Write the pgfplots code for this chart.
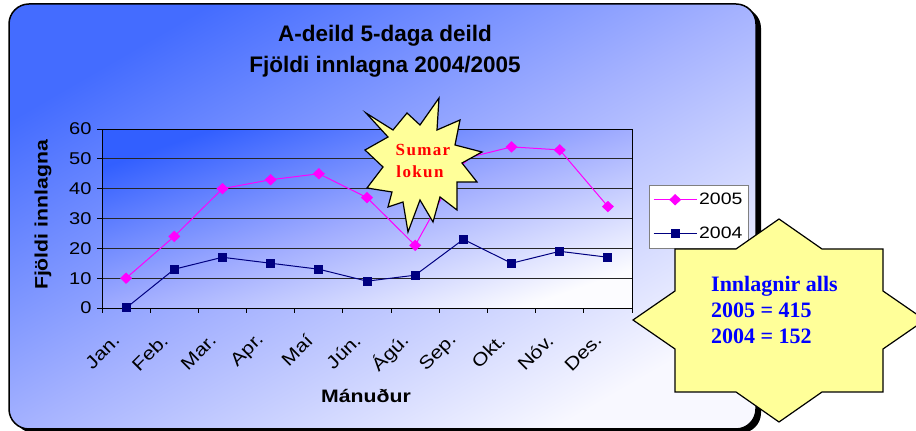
\documentclass[border=0pt]{standalone}
\usepackage{fontspec}
\setmainfont{Liberation Sans}
\newfontfamily\axfont[FakeStretch=1.18]{Liberation Sans}
\newfontfamily\tnr{Liberation Serif}
\usepackage{pgfplots}
\pgfplotsset{compat=1.18}
\definecolor{bgA}{RGB}{68,108,255}
\definecolor{bgB}{RGB}{165,178,255}
\definecolor{bgC}{RGB}{248,248,255}
\definecolor{paA}{RGB}{50,95,255}
\definecolor{paB}{RGB}{160,172,255}
\definecolor{paC}{RGB}{252,252,255}
\definecolor{starfill}{RGB}{255,255,153}
\definecolor{mag}{RGB}{255,0,255}
\definecolor{nav}{RGB}{0,0,128}
\definecolor{txtblue}{RGB}{0,0,255}
\begin{document}
\begin{tikzpicture}[x=1pt,y=1pt]
\useasboundingbox (0,0) rectangle (916,431);
\clip (0,0) rectangle (916,431);
% outer chart area with shadow
\fill[black,rounded corners=20pt] (14,-2) rectangle (761,423);
\draw[line width=1.5pt,rounded corners=20pt,top color=bgA,bottom color=bgC,middle color=bgB,shading angle=30] (9,2) rectangle (756,427);
% titles
\node[font=\fontsize{22.5}{22.5}\selectfont\bfseries,anchor=base,inner sep=0] at (385,389.3) {A-deild 5-daga deild};
\node[font=\fontsize{22.5}{22.5}\selectfont\bfseries,anchor=base,inner sep=0] at (385,358.3) {Fjöldi innlagna 2004/2005};
\node[font=\axfont\fontsize{18}{18}\selectfont\bfseries,rotate=90,inner sep=0] at (43,216) {Fjöldi innlagna};
\node[font=\axfont\fontsize{18}{18}\selectfont\bfseries,anchor=base,inner sep=0] at (366,28.3) {Mánuður};
\begin{axis}[
  at={(102pt,123pt)}, anchor=south west,
  scale only axis, width=530pt, height=179pt,
  xmin=0.5, xmax=11.5, ymin=0, ymax=60,
  ytick={0,10,...,60},
  xtick={1,...,11},
  xticklabels={Jan.,Feb.,Mar.,Apr.,Maí,Jún.,Ágú.,Sep.,Okt.,Nóv.,Des.},
  minor xtick={0.5,1.5,...,11.5},
  major x tick style={draw=none},
  tick align=outside, tick pos=left,
  major tick length=5pt, minor tick length=5pt,
  tick style={black,line width=0.9pt},
  ymajorgrids, grid style={black!85,line width=0.9pt},
  axis line style={black,line width=0.9pt},
  /pgf/number format/assume math mode=true,
  xticklabel style={font=\axfont\fontsize{18}{18}\selectfont, xshift=-7pt, yshift=-22pt, rotate=45, anchor=east},
  yticklabel style={font=\axfont\fontsize{17}{17}\selectfont, xshift=-2pt},
  axis background/.style={top color=paA,bottom color=paC,middle color=paB,shading angle=19},
  legend style={at={(1.032,0.687)}, anchor=north west, draw=black!50, fill=white,
    font=\axfont\fontsize{16.5}{16.5}\selectfont, row sep=17pt, inner xsep=4pt, inner ysep=6pt,
    nodes={inner sep=2pt}},
  legend cell align=left,
  legend image code/.code={\draw[mark repeat=2,mark phase=2,#1] plot coordinates {(0pt,0pt) (21.5pt,0pt) (43pt,0pt)};},
]
\addplot[mag, line width=1pt, mark=diamond*, mark size=5pt, mark options={solid,xscale=1.4}] coordinates {
 (1,10) (2,24) (3,40) (4,43) (5,45) (6,37) (7,21) (8,50) (9,54) (10,53) (11,34)};
\addlegendentry{2005}
\addplot[nav, line width=1pt, mark=square*, mark size=4pt, mark options={solid}] coordinates {
 (1,0) (2,13) (3,17) (4,15) (5,13) (6,9) (7,11) (8,23) (9,15) (10,19) (11,17)};
\addlegendentry{2004}
\end{axis}
% Sumar lokun burst
\draw[fill=starfill,line width=1.2pt,line join=miter] (366,318) -- (393,301) -- (407,318) -- (420,306) -- (439,333) -- (437,301) -- (460,311) -- (455,286) -- (482,279) -- (462,268) -- (477,249) -- (457,249) -- (457,221) -- (440,234) -- (433,209) -- (420,231) -- (408,199) -- (403,229) -- (388,224) -- (392,239) -- (367,243) -- (383,264) -- (365,281) -- (388,294) -- cycle;
\node[font=\tnr\addfontfeature{LetterSpace=8}\fontsize{17}{17}\selectfont\bfseries,text=red,anchor=base,inner sep=0] at (423,275) {Sumar};
\node[font=\tnr\addfontfeature{LetterSpace=8}\fontsize{17}{17}\selectfont\bfseries,text=red,anchor=base,inner sep=0] at (420,253.3) {lokun};
% Innlagnir alls star
\draw[fill=starfill,line width=1.2pt,line join=miter] (779,212) -- (822,182) -- (883,182) -- (883,140) -- (925,111) -- (883,82) -- (883,39) -- (822,39) -- (779,9) -- (736,39) -- (675,39) -- (675,82) -- (633,111) -- (675,140) -- (675,182) -- (736,182) -- cycle;
\node[font=\tnr\fontsize{22}{22}\selectfont\bfseries,text=txtblue,anchor=base west,inner sep=0] at (711,139.3) {Innlagnir alls};
\node[font=\tnr\fontsize{22}{22}\selectfont\bfseries,text=txtblue,anchor=base west,inner sep=0] at (711,113.3) {2005 = 415};
\node[font=\tnr\fontsize{22}{22}\selectfont\bfseries,text=txtblue,anchor=base west,inner sep=0] at (711,87) {2004 = 152};
\end{tikzpicture}
\end{document}
